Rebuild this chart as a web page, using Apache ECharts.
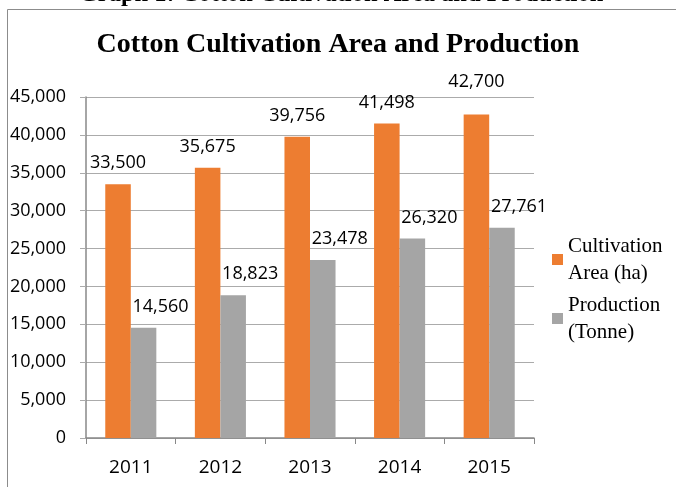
<!DOCTYPE html>
<html>
<head>
<meta charset="utf-8">
<script src="https://cdn.jsdelivr.net/npm/echarts@6/dist/echarts.min.js"></script>
<style>
  body { margin: 0; background: #fff; }
  #chart { width: 676px; height: 487px; }
</style>
</head>
<body>
<div id="chart"></div>
<script>
var years = ['2011', '2012', '2013', '2014', '2015'];
var areaHa = [33500, 35675, 39756, 41498, 42700];
var productionTonne = [14560, 18823, 23478, 26320, 27761];
var yTicks = [0, 5000, 10000, 15000, 20000, 25000, 30000, 35000, 40000, 45000];

var fmt = function (v) {
    return v.toLocaleString('en-US');
};

// the last orange label sits above the top gridline in the original
var areaData = areaHa.map(function (v, i) {
    if (i == areaHa.length - 1) {
        return { value: v, label: { distance: 24 } };
    }
    return v;
});

var myChart = echarts.init(document.getElementById('chart'));
myChart.setOption({
    animation: false,
    backgroundColor: '#fff',
    title: {
        text: 'Cotton Cultivation Area and Production',
        left: 'center',
        top: 26,
        textStyle: {
            fontFamily: 'Liberation Serif',
            fontWeight: 'bold',
            fontSize: 28,
            color: '#000'
        }
    },
    // caption of the figure, mostly cut off at the top
    graphic: [{
        type: 'text',
        x: 341,
        y: -5,
        style: {
            text: 'Graph 1: Cotton Cultivation Area and Production',
            font: 'bold 24.5px "Liberation Serif"',
            fill: '#000',
            align: 'center',
            verticalAlign: 'middle'
        }
    }, {
        type: 'rect',
        shape: { x: 7.5, y: 9.5, width: 700, height: 500 },
        style: { fill: 'none', stroke: '#8c8c8c', lineWidth: 1 }
    }],
    legend: {
        orient: 'vertical',
        left: 552,
        top: 219,
        padding: 0,
        itemWidth: 11,
        itemHeight: 11,
        itemGap: -22,
        icon: 'rect',
        textStyle: {
            fontFamily: 'Liberation Serif',
            fontSize: 21,
            lineHeight: 27,
            color: '#000',
            padding: [27, 0, 0, 0]
        },
        data: ['Cultivation\nArea (ha)', 'Production\n(Tonne)']
    },
    grid: {
        left: 86,
        right: 142,
        top: 97,
        bottom: 49
    },
    xAxis: {
        type: 'category',
        data: years,
        axisLine: { lineStyle: { color: '#888', width: 1.5 } },
        axisTick: { show: true, length: 6, lineStyle: { color: '#888' } },
        axisLabel: {
            margin: 20,
            fontFamily: 'Open Sans',
            fontSize: 19,
            color: '#000'
        }
    },
    yAxis: {
        type: 'value',
        min: yTicks[0],
        max: yTicks[yTicks.length - 1],
        interval: yTicks[1] - yTicks[0],
        axisLine: { show: true, lineStyle: { color: '#888', width: 1.5 } },
        axisTick: { show: true, length: 6, lineStyle: { color: '#ababab' } },
        splitLine: { lineStyle: { color: '#ababab', width: 1 } },
        axisLabel: {
            margin: 20,
            fontFamily: 'Open Sans',
            fontSize: 18,
            color: '#000',
            formatter: fmt
        }
    },
    series: [{
        name: 'Cultivation\nArea (ha)',
        type: 'bar',
        data: areaData,
        barGap: '0%',
        barCategoryGap: '43%',
        itemStyle: { color: '#ED7D31' },
        label: {
            show: true,
            position: 'top',
            distance: 12,
            fontFamily: 'Open Sans',
            fontSize: 18,
            color: '#000',
            formatter: function (p) { return fmt(p.value); }
        }
    }, {
        name: 'Production\n(Tonne)',
        type: 'bar',
        data: productionTonne,
        barGap: '0%',
        barCategoryGap: '43%',
        itemStyle: { color: '#A5A5A5' },
        label: {
            show: true,
            position: 'top',
            distance: 12,
            offset: [17, 0],
            fontFamily: 'Open Sans',
            fontSize: 18,
            color: '#000',
            formatter: function (p) { return fmt(p.value); }
        }
    }]
});
</script>
</body>
</html>
